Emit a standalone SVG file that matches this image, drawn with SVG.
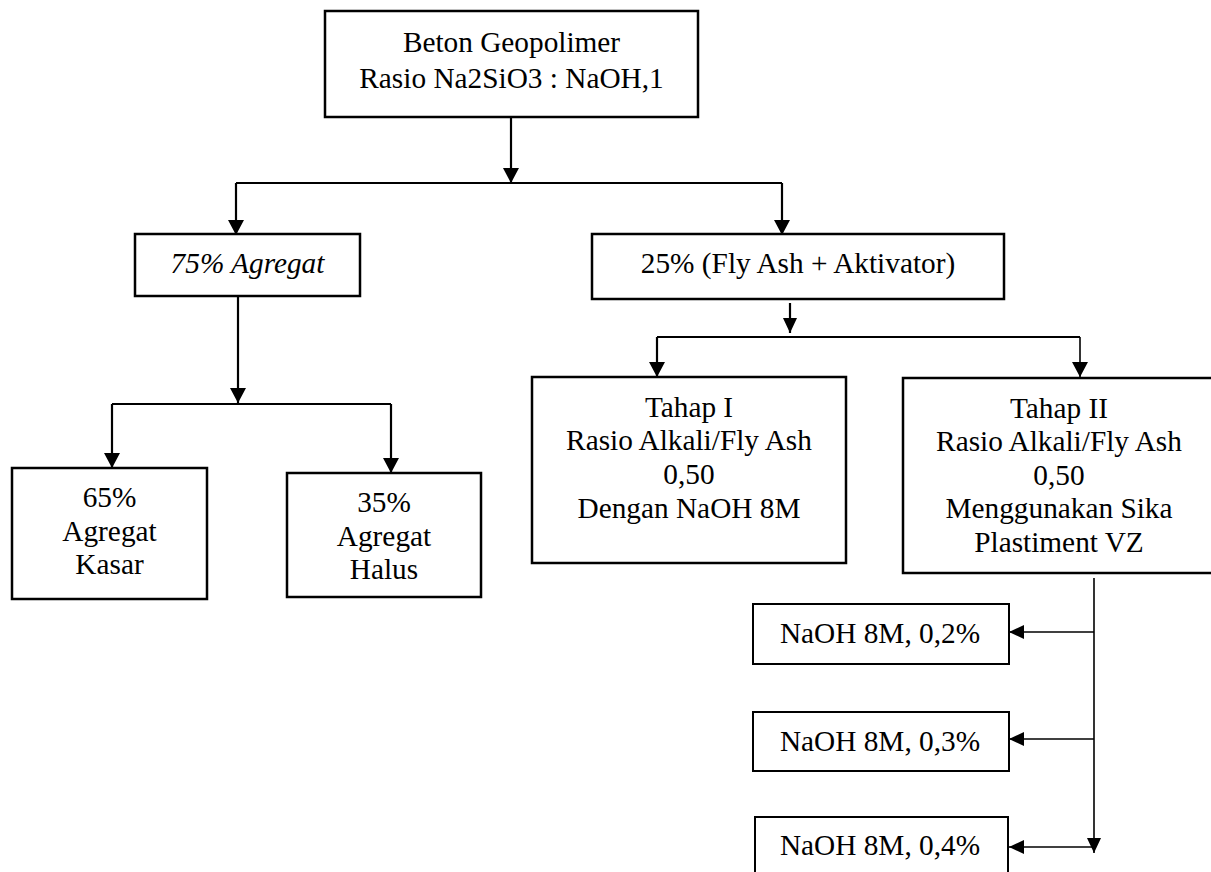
<svg xmlns="http://www.w3.org/2000/svg" width="1211" height="872" viewBox="0 0 1211 872">
<style>
.box{fill:#fff;stroke:#000;stroke-width:2.5}
.sbox{fill:#fff;stroke:#000;stroke-width:2}
text{font-family:"Liberation Serif","Times New Roman",serif;font-size:29.3px;fill:#000;text-anchor:middle}
.it{font-style:italic}
.c{fill:none;stroke:#000;stroke-width:2.2}
.cs{fill:none;stroke:#000;stroke-width:1.6}
</style>
<defs>
<marker id="ah" markerUnits="userSpaceOnUse" markerWidth="16" markerHeight="16" refX="15" refY="8" orient="auto">
<path d="M0,0 L15,8 L0,16 z" fill="#000"/>
</marker>
<marker id="ahs" markerUnits="userSpaceOnUse" markerWidth="16" markerHeight="14" refX="15" refY="7" orient="auto">
<path d="M0,0 L15,7 L0,14 z" fill="#000"/>
</marker>
</defs>
<rect width="1211" height="872" fill="#fff"/>
<g id="connectors">
<line class="c" x1="511" y1="117" x2="511" y2="183" marker-end="url(#ah)"/>
<line class="c" x1="236" y1="183" x2="782" y2="183"/>
<line class="c" x1="236" y1="183" x2="236" y2="235" marker-end="url(#ah)"/>
<line class="c" x1="782" y1="183" x2="782" y2="235" marker-end="url(#ah)"/>
<line class="c" x1="238" y1="296" x2="238" y2="403" marker-end="url(#ah)"/>
<line class="c" x1="112" y1="404" x2="391" y2="404"/>
<line class="c" x1="112" y1="404" x2="112" y2="468" marker-end="url(#ah)"/>
<line class="c" x1="391" y1="404" x2="391" y2="473" marker-end="url(#ah)"/>
<line class="c" x1="790" y1="303" x2="790" y2="333" marker-end="url(#ahs)"/>
<line class="c" x1="657" y1="337" x2="1080" y2="337"/>
<line class="c" x1="657" y1="337" x2="657" y2="377" marker-end="url(#ah)"/>
<line class="cs" x1="1080" y1="337" x2="1080" y2="377" marker-end="url(#ah)"/>
<line class="cs" x1="1094" y1="578" x2="1094" y2="853" marker-end="url(#ahs)"/>
<line class="cs" x1="1094" y1="632" x2="1009" y2="632" marker-end="url(#ahs)"/>
<line class="cs" x1="1094" y1="739" x2="1009" y2="739" marker-end="url(#ahs)"/>
<line class="cs" x1="1094" y1="847" x2="1009" y2="847" marker-end="url(#ahs)"/>
</g>
<g id="n-top">
<rect class="box" x="325" y="11" width="373" height="106"/>
<text x="511.5" y="52">Beton Geopolimer</text>
<text x="511.5" y="88">Rasio Na2SiO3 : NaOH,1</text>
</g>
<g id="n-agregat">
<rect class="box" x="135" y="234" width="225" height="62"/>
<text class="it" x="247.5" y="273">75% Agregat</text>
</g>
<g id="n-flyash">
<rect class="box" x="592" y="234" width="412" height="65"/>
<text x="798" y="273">25% (Fly Ash + Aktivator)</text>
</g>
<g id="n-kasar">
<rect class="box" x="12" y="468" width="195" height="131"/>
<text x="109.5" y="507">65%</text>
<text x="109.5" y="541">Agregat</text>
<text x="109.5" y="574">Kasar</text>
</g>
<g id="n-halus">
<rect class="box" x="287" y="473" width="194" height="124"/>
<text x="384" y="512">35%</text>
<text x="384" y="546">Agregat</text>
<text x="384" y="579">Halus</text>
</g>
<g id="n-tahap1">
<rect class="box" x="532" y="377" width="314" height="186"/>
<text x="689" y="417">Tahap I</text>
<text x="689" y="450">Rasio Alkali/Fly Ash</text>
<text x="689" y="484">0,50</text>
<text x="689" y="518">Dengan NaOH 8M</text>
</g>
<g id="n-tahap2">
<rect class="box" x="903" y="378" width="320" height="195"/>
<text x="1059" y="418">Tahap II</text>
<text x="1059" y="451">Rasio Alkali/Fly Ash</text>
<text x="1059" y="485">0,50</text>
<text x="1059" y="518">Menggunakan Sika</text>
<text x="1059" y="552">Plastiment VZ</text>
</g>
<g id="n-naoh02">
<rect class="sbox" x="753" y="604" width="256" height="60"/>
<text x="880" y="643">NaOH 8M, 0,2%</text>
</g>
<g id="n-naoh03">
<rect class="sbox" x="753" y="712" width="256" height="59"/>
<text x="880" y="751">NaOH 8M, 0,3%</text>
</g>
<g id="n-naoh04">
<rect class="sbox" x="755" y="817" width="253" height="62"/>
<text x="880" y="855">NaOH 8M, 0,4%</text>
</g>
</svg>
